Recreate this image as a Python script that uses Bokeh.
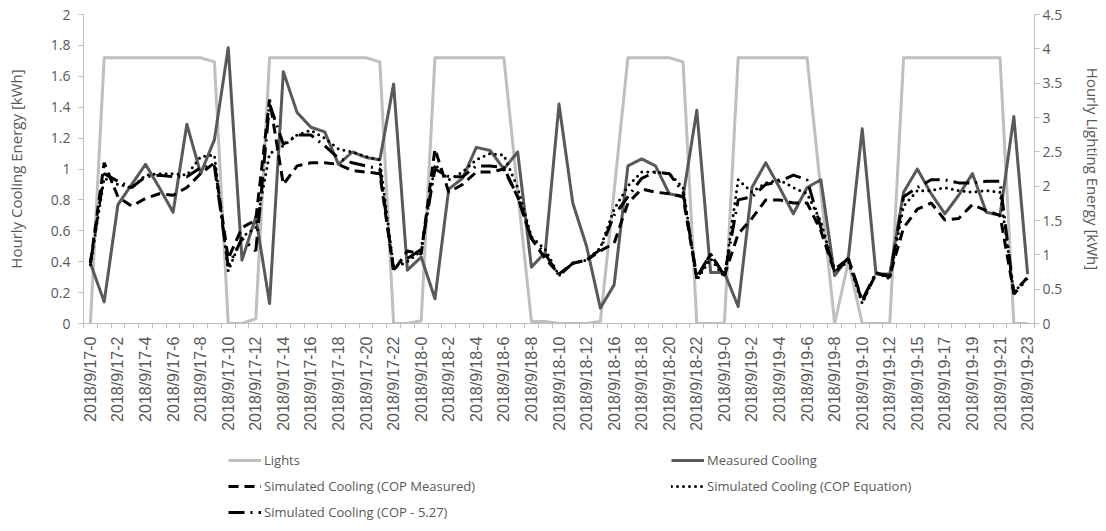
import numpy as np
from bokeh.plotting import figure
from bokeh.layouts import column
from bokeh.models import Range1d, LinearAxis, FixedTicker, Legend, LegendItem
from bokeh.embed import file_html
from bokeh.resources import INLINE

hours_17 = [f"2018/9/17-{h}" for h in range(24)]
hours_18 = [f"2018/9/18-{h}" for h in list(range(13)) + [14] + list(range(16, 24))]
hours_19 = [f"2018/9/19-{h}" for h in list(range(13)) + [14] + list(range(15, 24))]
categories = hours_17 + hours_18 + hours_19

lights = [0, 3.87, 3.87, 3.87, 3.87, 3.87, 3.87, 3.87, 3.87, 3.81,
          0, 0, 0.07, 3.87, 3.87, 3.87, 3.87, 3.87, 3.87, 3.87,
          3.87, 3.81, 0, 0, 0.04, 3.87, 3.87, 3.87, 3.87, 3.87,
          3.87, 1.93, 0.03, 0.03, 0, 0, 0, 0.03, 1.93, 3.87,
          3.87, 3.87, 3.87, 3.81, 0, 0, 0, 3.87, 3.87, 3.87,
          3.87, 3.87, 3.87, 1.93, 0, 0.9, 0, 0, 0, 3.87,
          3.87, 3.87, 3.87, 3.87, 3.87, 3.87, 3.87, 0, 0]

measured = [0.39, 0.14, 0.77, 0.90, 1.03, 0.88, 0.72, 1.29, 0.97, 1.19,
            1.785, 0.41, 0.69, 0.13, 1.63, 1.365, 1.27, 1.24, 1.03, 1.11,
            1.075, 1.06, 1.55, 0.345, 0.43, 0.16, 0.87, 0.94, 1.14, 1.12,
            1.0, 1.11, 0.365, 0.46, 1.42, 0.78, 0.50, 0.10, 0.25, 1.02,
            1.065, 1.02, 0.84, 0.82, 1.38, 0.33, 0.33, 0.11, 0.88, 1.04,
            0.88, 0.71, 0.88, 0.93, 0.31, 0.43, 1.26, 0.32, 0.32, 0.85,
            1.0, 0.84, 0.71, 0.83, 0.97, 0.72, 0.70, 1.34, 0.32]

sim_cop_measured = [0.39, 1.04, 0.82, 0.76, 0.81, 0.84, 0.83, 0.88, 0.97, 1.04,
                    0.42, 0.62, 0.67, 1.45, 0.90, 1.02, 1.04, 1.04, 1.03, 0.99,
                    0.98, 0.97, 0.34, 0.47, 0.45, 1.13, 0.85, 0.90, 0.98, 0.98,
                    1.0, 0.82, 0.55, 0.42, 0.32, 0.39, 0.41, 0.47, 0.52, 0.78,
                    0.87, 0.85, 0.84, 0.82, 0.29, 0.45, 0.31, 0.58, 0.68, 0.80,
                    0.80, 0.78, 0.78, 0.60, 0.33, 0.42, 0.14, 0.32, 0.31, 0.62,
                    0.74, 0.78, 0.67, 0.68, 0.77, 0.73, 0.70, 0.20, 0.30]

sim_cop_equation = [0.38, 0.94, 0.90, 0.88, 0.96, 0.97, 0.97, 0.96, 1.08, 1.09,
                    0.34, 0.56, 0.62, 1.10, 1.15, 1.22, 1.25, 1.20, 1.13, 1.11,
                    1.08, 1.06, 0.36, 0.40, 0.47, 1.03, 0.93, 0.98, 1.06, 1.10,
                    1.09, 0.88, 0.56, 0.48, 0.31, 0.39, 0.41, 0.49, 0.74, 0.89,
                    0.98, 0.98, 0.97, 0.88, 0.28, 0.42, 0.30, 0.93, 0.85, 0.91,
                    0.93, 0.88, 0.84, 0.66, 0.34, 0.40, 0.13, 0.33, 0.29, 0.76,
                    0.86, 0.86, 0.88, 0.86, 0.85, 0.86, 0.85, 0.20, 0.30]

sim_cop_527 = [0.39, 0.97, 0.92, 0.88, 0.95, 0.96, 0.95, 0.95, 1.01, 1.02,
               0.37, 0.55, 0.47, 1.42, 1.16, 1.22, 1.22, 1.15, 1.07, 1.04,
               1.02, 1.0, 0.35, 0.42, 0.48, 1.0, 0.95, 0.95, 1.02, 1.02,
               1.01, 0.82, 0.55, 0.45, 0.31, 0.39, 0.41, 0.48, 0.70, 0.82,
               0.94, 0.98, 0.97, 0.85, 0.30, 0.45, 0.31, 0.80, 0.82, 0.90,
               0.92, 0.96, 0.93, 0.62, 0.35, 0.42, 0.15, 0.33, 0.30, 0.82,
               0.88, 0.93, 0.93, 0.91, 0.91, 0.92, 0.92, 0.19, 0.29]

left_ticks = [0, 0.2, 0.4, 0.6, 0.8, 1.0, 1.2, 1.4, 1.6, 1.8, 2.0]
left_labels = ["0", "0.2", "0.4", "0.6", "0.8", "1", "1.2", "1.4", "1.6", "1.8", "2"]
right_ticks = [0, 0.5, 1.0, 1.5, 2.0, 2.5, 3.0, 3.5, 4.0, 4.5]
right_labels = ["0", "0.5", "1", "1.5", "2", "2.5", "3", "3.5", "4", "4.5"]

series_names = ["Lights", "Measured Cooling", "Simulated Cooling (COP Measured)",
                "Simulated Cooling (COP Equation)", "Simulated Cooling (COP - 5.27)"]

n = len(categories)
xs = list(range(n))

GRAY_TXT = "#595959"
AXIS_CLR = "#bfbfbf"
LIGHT_CLR = "#bfbfbf"
MEAS_CLR = "#595959"

styles = [
    dict(line_color=LIGHT_CLR, line_width=3, line_join="round"),
    dict(line_color=MEAS_CLR, line_width=3, line_join="round"),
    dict(line_color="black", line_width=3, line_dash="10 6"),
    dict(line_color="black", line_width=3, line_dash="0 6", line_cap="round"),
    dict(line_color="black", line_width=3, line_dash="16 6 2 6"),
]

p = figure(width=1106, height=440, output_backend="svg", toolbar_location=None,
           x_range=Range1d(-0.5, n - 0.5), y_range=Range1d(0, 2),
           min_border_left=83, min_border_right=71, min_border_top=14,
           min_border_bottom=117)
p.outline_line_color = None
p.xgrid.visible = False
p.ygrid.visible = False

p.extra_y_ranges = {"lights": Range1d(0, 4.5)}

# x axis
xa = p.xaxis[0]
xa.ticker = FixedTicker(ticks=list(range(0, n, 2)),
                        minor_ticks=[i - 0.5 for i in range(n + 1)])
xa.major_label_overrides = {i: categories[i] for i in range(0, n, 2)}
xa.major_label_orientation = np.pi / 2
xa.major_tick_line_color = None
xa.major_tick_out = 0
xa.major_tick_in = 0
xa.minor_tick_line_color = AXIS_CLR
xa.minor_tick_out = 5
xa.minor_tick_in = 0
xa.axis_line_color = AXIS_CLR
xa.major_label_text_font = "Liberation Sans"
xa.major_label_text_font_size = "16px"
xa.major_label_text_color = GRAY_TXT
xa.major_label_standoff = 8

# left axis
ya = p.yaxis[0]
ya.ticker = FixedTicker(ticks=left_ticks)
ya.major_label_overrides = {t: l for t, l in zip(left_ticks, left_labels)}
ya.minor_tick_line_color = None
ya.major_tick_out = 5
ya.major_tick_in = 0
ya.major_tick_line_color = AXIS_CLR
ya.axis_line_color = AXIS_CLR
ya.major_label_text_font = "Open Sans"
ya.major_label_text_font_size = "14px"
ya.major_label_text_color = GRAY_TXT
ya.major_label_standoff = 8
ya.axis_label = "Hourly Cooling Energy [kWh]"
ya.axis_label_text_font = "Open Sans"
ya.axis_label_text_font_size = "15px"
ya.axis_label_text_font_style = "normal"
ya.axis_label_text_color = GRAY_TXT
ya.axis_label_standoff = 22

# right axis
ra = LinearAxis(y_range_name="lights", ticker=FixedTicker(ticks=right_ticks))
ra.major_label_overrides = {t: l for t, l in zip(right_ticks, right_labels)}
ra.minor_tick_line_color = None
ra.major_tick_out = 5
ra.major_tick_in = 0
ra.major_tick_line_color = AXIS_CLR
ra.axis_line_color = AXIS_CLR
ra.major_label_text_font = "Open Sans"
ra.major_label_text_font_size = "14px"
ra.major_label_text_color = GRAY_TXT
ra.major_label_standoff = 3
ra.axis_label = "Hourly Lighting Energy [kWh]"
ra.axis_label_text_font = "Open Sans"
ra.axis_label_text_font_size = "15px"
ra.axis_label_text_font_style = "normal"
ra.axis_label_text_color = GRAY_TXT
ra.axis_label_standoff = 18
p.add_layout(ra, "right")

p.line(xs, lights, y_range_name="lights", **styles[0])
p.line(xs, measured, **styles[1])
p.line(xs, sim_cop_measured, **styles[2])
p.line(xs, sim_cop_equation, **styles[3])
p.line(xs, sim_cop_527, **styles[4])

# legend figure below the chart (its lines lie outside its own range, so only
# the legend samples are visible)
lf = figure(width=1106, height=91, output_backend="svg", toolbar_location=None,
            x_range=Range1d(0, 1), y_range=Range1d(0, 1),
            x_axis_type=None, y_axis_type=None,
            min_border_left=0, min_border_right=0, min_border_top=0,
            min_border_bottom=0)
lf.outline_line_color = None
items = []
for name, st in zip(series_names, styles):
    r = lf.line([5, 6], [5, 6], **st)
    items.append(LegendItem(label=name, renderers=[r]))

legend = Legend(items=items, orientation="horizontal", ncols=2, location=(145, 9),
                glyph_width=33, glyph_height=20, label_height=20, label_width=401,
                label_standoff=3, spacing=6, padding=5, margin=0,
                border_line_color=None, background_fill_alpha=0,
                label_text_font="Open Sans", label_text_font_size="13px",
                label_text_color=GRAY_TXT)
lf.add_layout(legend, "center")

layout = column(p, lf, spacing=0)
open("out.html", "w").write(file_html(layout, INLINE))
